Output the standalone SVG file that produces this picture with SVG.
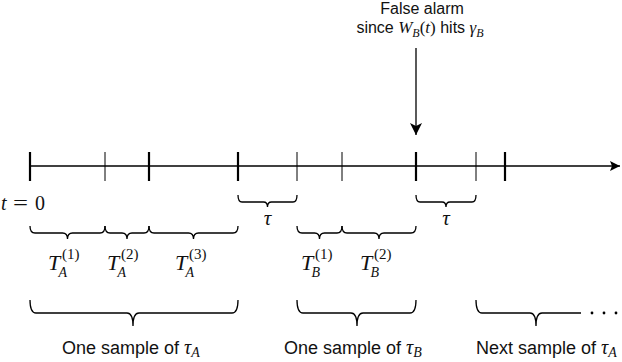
<svg xmlns="http://www.w3.org/2000/svg" width="622" height="362" viewBox="0 0 622 362">
<style>
.txt{font-family:"Liberation Sans",Arial,sans-serif;fill:#111}
.top{font-size:16px}
.bot{font-size:18px}
.m{font-family:"Liberation Serif","Times New Roman",serif;font-style:italic;fill:#111}
.u{font-family:"Liberation Serif","Times New Roman",serif;font-style:normal;fill:#111}
.ax{stroke:#000;stroke-width:1.3;fill:none}
.thick{stroke:#000;stroke-width:2.2}
.thin{stroke:#000;stroke-width:1}
.br{stroke:#000;stroke-width:1.3;fill:none}
</style>
<defs>
<marker id="ah" viewBox="0 0 10 10" refX="10" refY="5" markerWidth="10" markerHeight="10" markerUnits="userSpaceOnUse" orient="auto">
<path d="M0,0 L10,5 L0,10 L2,5 Z" fill="#000"/>
</marker>
<marker id="ah2" viewBox="0 0 12 12" refX="12" refY="6" markerWidth="12" markerHeight="12" markerUnits="userSpaceOnUse" orient="auto">
<path d="M0,0 L12,6 L0,12 L3,6 Z" fill="#000"/>
</marker>
</defs>

<g id="connectors">
<line class="ax" x1="30" y1="166" x2="620" y2="166" marker-end="url(#ah)"/>
<line class="ax" x1="416" y1="48" x2="416" y2="135" stroke-width="1.6" marker-end="url(#ah2)"/>
</g>

<g id="ticks">
<line class="thick" x1="30" y1="152" x2="30" y2="181"/>
<line class="thin" x1="105" y1="152" x2="105" y2="181"/>
<line class="thick" x1="149" y1="152" x2="149" y2="181"/>
<line class="thick" x1="238" y1="152" x2="238" y2="181"/>
<line class="thin" x1="297" y1="152" x2="297" y2="181"/>
<line class="thin" x1="342" y1="152" x2="342" y2="181"/>
<line class="thick" x1="416" y1="152" x2="416" y2="181"/>
<line class="thin" x1="476" y1="152" x2="476" y2="181"/>
<line class="thick" x1="505" y1="152" x2="505" y2="181"/>
</g>

<g id="false-alarm">
<text class="txt top" x="422" y="14" text-anchor="middle">False alarm</text>
<text class="txt top" x="420" y="33" text-anchor="middle">since <tspan class="m" font-size="17">W</tspan><tspan class="m" font-size="12" dy="4">B</tspan><tspan class="u" font-size="17" dy="-4">(</tspan><tspan class="m" font-size="17">t</tspan><tspan class="u" font-size="17">)</tspan> hits <tspan class="m" font-size="17">γ</tspan><tspan class="m" font-size="12" dy="4">B</tspan></text>
</g>

<g id="t0">
<text class="m" x="1" y="210" font-size="20">t</text>
<text class="u" x="13" y="210" font-size="20" textLength="15" lengthAdjust="spacingAndGlyphs">=</text>
<text class="u" x="35" y="210" font-size="20">0</text>
</g>

<g id="tau-braces">
<path class="br" d="M238,195 Q238,202 242,202 L263.5,202 Q267.5,202 267.5,207 Q267.5,202 271.5,202 L293,202 Q297,202 297,195"/>
<text class="m" x="267.5" y="225" font-size="21" text-anchor="middle">τ</text>
<path class="br" d="M416,195 Q416,202 420,202 L442,202 Q446,202 446,207 Q446,202 450,202 L472,202 Q476,202 476,195"/>
<text class="m" x="446" y="225" font-size="21" text-anchor="middle">τ</text>
</g>

<g id="TA1">
<path class="br" d="M30,226 Q30,233 35,233 L62.5,233 Q67.5,233 67.5,239 Q67.5,233 72.5,233 L100,233 Q105,233 105,226"/>
<text class="m" x="48" y="270" font-size="22">T<tspan font-size="14" x="58.5" dy="7">A</tspan><tspan class="u" font-size="15" x="62" dy="-18">(1)</tspan></text>
</g>
<g id="TA2">
<path class="br" d="M105,226 Q105,233 110,233 L122,233 Q127,233 127,239 Q127,233 132,233 L144,233 Q149,233 149,226"/>
<text class="m" x="107" y="270" font-size="22">T<tspan font-size="14" x="117.5" dy="7">A</tspan><tspan class="u" font-size="15" x="121" dy="-18">(2)</tspan></text>
</g>
<g id="TA3">
<path class="br" d="M149,226 Q149,233 154,233 L188.5,233 Q193.5,233 193.5,239 Q193.5,233 198.5,233 L233,233 Q238,233 238,226"/>
<text class="m" x="175" y="270" font-size="22">T<tspan font-size="14" x="185.5" dy="7">A</tspan><tspan class="u" font-size="15" x="189" dy="-18">(3)</tspan></text>
</g>
<g id="TB1">
<path class="br" d="M297,226 Q297,233 302,233 L314.5,233 Q319.5,233 319.5,239 Q319.5,233 324.5,233 L337,233 Q342,233 342,226"/>
<text class="m" x="301" y="270" font-size="22">T<tspan font-size="14" x="311.5" dy="7">B</tspan><tspan class="u" font-size="15" x="315" dy="-18">(1)</tspan></text>
</g>
<g id="TB2">
<path class="br" d="M342,226 Q342,233 347,233 L374,233 Q379,233 379,239 Q379,233 384,233 L411,233 Q416,233 416,226"/>
<text class="m" x="360" y="270" font-size="22">T<tspan font-size="14" x="370.5" dy="7">B</tspan><tspan class="u" font-size="15" x="374" dy="-18">(2)</tspan></text>
</g>

<g id="sample-A">
<path class="br" d="M30,300 Q30,313 36,313 L127,313 Q133,313 133,326 Q133,313 139,313 L232,313 Q238,313 238,300"/>
<text class="txt bot" x="62" y="354">One sample of <tspan class="m" font-size="20">τ</tspan><tspan class="m" font-size="14" dy="3">A</tspan></text>
</g>
<g id="sample-B">
<path class="br" d="M297,300 Q297,313 303,313 L351,313 Q357,313 357,326 Q357,313 363,313 L410,313 Q416,313 416,300"/>
<text class="txt bot" x="284" y="354">One sample of <tspan class="m" font-size="20">τ</tspan><tspan class="m" font-size="14" dy="3">B</tspan></text>
</g>
<g id="next-sample-A">
<path class="br" d="M476,300 Q476,313 482,313 L530,313 Q536,313 536,326 Q536,313 542,313 L581,313"/>
<circle cx="592" cy="313" r="1.4" fill="#000"/>
<circle cx="604" cy="313" r="1.4" fill="#000"/>
<circle cx="616" cy="313" r="1.4" fill="#000"/>
<text class="txt bot" x="476" y="354">Next sample of <tspan class="m" font-size="20">τ</tspan><tspan class="m" font-size="14" dy="3">A</tspan></text>
</g>
</svg>
